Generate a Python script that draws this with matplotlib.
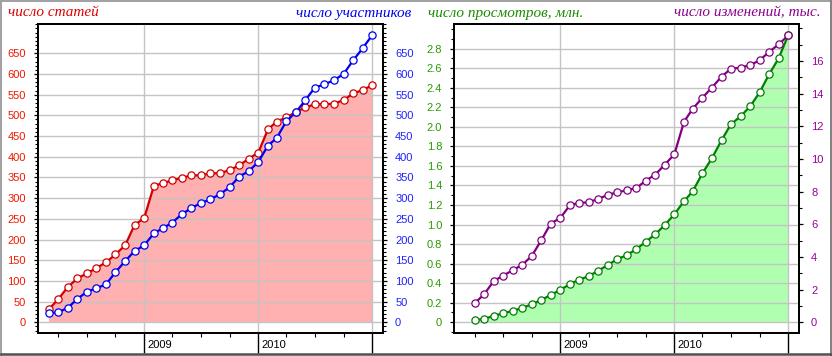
import matplotlib
matplotlib.use("Agg")
import matplotlib.pyplot as plt
import matplotlib.dates as mdates
import matplotlib.ticker as mticker
from matplotlib.transforms import ScaledTranslation
from matplotlib.lines import Line2D
import numpy as np
import pandas as pd

# ---------------- data ----------------
months_left = pd.date_range("2008-03-01", "2011-01-01", freq="MS")   # 35 months
months_right = pd.date_range("2008-04-01", "2011-01-01", freq="MS")  # 34 months

articles = [31, 56, 85, 106, 118, 131, 145, 164, 186, 235,
            252, 330, 336, 343, 349, 355, 355, 360, 360, 368,
            379, 395, 410, 466, 485, 495, 508, 519, 527, 527,
            528, 537, 553, 561, 573]
participants = [22, 24, 35, 56, 74, 82, 92, 121, 148, 172,
                186, 215, 227, 241, 261, 276, 288, 297, 310, 326,
                352, 365, 387, 427, 445, 486, 507, 537, 567, 575,
                585, 600, 633, 662, 694]
views_mln = [0.020, 0.034, 0.065, 0.092, 0.116, 0.147, 0.184, 0.229, 0.280, 0.331,
             0.393, 0.434, 0.471, 0.526, 0.584, 0.645, 0.686, 0.748, 0.823, 0.901,
             0.994, 1.106, 1.239, 1.342, 1.525, 1.678, 1.862, 2.026, 2.108, 2.210,
             2.353, 2.541, 2.701, 2.940]
edits_k = [1.16, 1.71, 2.52, 2.86, 3.19, 3.53, 4.06, 5.04, 6.05, 6.40,
           7.19, 7.31, 7.35, 7.55, 7.80, 7.96, 8.08, 8.22, 8.67, 9.05,
           9.65, 10.29, 12.29, 13.08, 13.76, 14.37, 15.04, 15.53, 15.59, 15.76,
           16.04, 16.57, 17.02, 17.57]

year_ticks = ["2009-01-01", "2010-01-01", "2011-01-01"]
year_labels = ["2009", "2010", ""]

title_articles = "число статей"
title_participants = "число участников"
title_views = "число просмотров, млн."
title_edits = "число изменений, тыс."

# ---------------- style ----------------
W, H = 832, 356
fig = plt.figure(figsize=(W / 100, H / 100), dpi=100)
fig.patch.set_facecolor("white")

TICK_FONT = {"family": ["Liberation Sans", "DejaVu Sans"], "size": 8.0}
TITLE_FONT = ["Liberation Serif", "DejaVu Serif"]
GRID = "#C4C4C4"

def px_rect(x0, y0, x1, y1):
    return [x0 / W, 1 - y1 / H, (x1 - x0) / W, (y1 - y0) / H]

x_ticks_num = [mdates.date2num(pd.Timestamp(d)) for d in year_ticks]
day_per_px = 365.0 / 114.0
xlim = (x_ticks_num[0] - 106.5 * day_per_px, x_ticks_num[2] + 11.0 * day_per_px)


def setup_x(ax):
    ax.set_xlim(*xlim)
    ax.xaxis.set_major_locator(mticker.FixedLocator(x_ticks_num))
    ax.xaxis.set_minor_locator(mdates.MonthLocator(bymonth=[4, 7, 10]))
    ax.set_xticklabels(year_labels, ha="left", fontdict=TICK_FONT, color="black")
    ax.tick_params(axis="x", which="major", direction="out", length=14.6, width=1.0,
                   pad=-10.0, color="black")
    ax.tick_params(axis="x", which="minor", direction="out", length=3.0, width=0.8,
                   color="black")
    for lbl in ax.get_xticklabels():
        lbl.set_transform(lbl.get_transform() + ScaledTranslation(2.5 / 72, 0, fig.dpi_scale_trans))
    ax.grid(True, axis="x", which="major", color=GRID, linewidth=1.0)


def style_y(ax, side, color):
    ax.tick_params(axis="y", which="major", direction="out", length=3.0, width=0.9,
                   color="black", labelcolor=color, pad=5.5)
    ax.tick_params(axis="y", which="minor", direction="out", length=2.0, width=0.8,
                   color="black")
    for lbl in ax.get_yticklabels():
        lbl.set_fontfamily(TICK_FONT["family"])
        lbl.set_fontsize(TICK_FONT["size"])


def spines(ax):
    for s in ax.spines.values():
        s.set_linewidth(1.3)
        s.set_color("black")


# ---------------- left panel ----------------
axL = fig.add_axes(px_rect(37.7, 24.3, 383.3, 333.3))
axL.set_axisbelow(False)
setup_x(axL)
ylimL = (-26.6, 720)
axL.set_ylim(*ylimL)
axL.yaxis.set_major_locator(mticker.FixedLocator(np.arange(0, 651, 50)))
axL.yaxis.set_minor_locator(mticker.MultipleLocator(10))
axL.yaxis.set_major_formatter(mticker.FormatStrFormatter("%d"))
axL.fill_between(months_left, articles, 0, color="#FFB0B0", linewidth=0, zorder=1)
axL.grid(True, axis="y", which="major", color=GRID, linewidth=1.0)
for gl in axL.get_xgridlines() + axL.get_ygridlines():
    gl.set_zorder(1.5)
axL.plot(months_left, articles, color="#D00000", lw=1.6, marker="o", ms=5.2,
         mfc="white", mec="#D00000", mew=0.9, zorder=3, clip_on=False)
style_y(axL, "left", "#F01800")
spines(axL)

axL2 = axL.twinx()
axL2.set_ylim(*ylimL)
axL2.yaxis.set_major_locator(mticker.FixedLocator(np.arange(0, 651, 50)))
axL2.yaxis.set_minor_locator(mticker.MultipleLocator(10))
axL2.yaxis.set_major_formatter(mticker.FormatStrFormatter("%d"))
axL2.plot(months_left, participants, color="#0000F0", lw=1.6, marker="o", ms=5.2,
          mfc="white", mec="#0000F0", mew=0.9, zorder=3, clip_on=False)
style_y(axL2, "right", "#2020FF")
spines(axL2)

# ---------------- right panel ----------------
axR = fig.add_axes(px_rect(454.0, 24.3, 799.3, 333.3))
axR.set_axisbelow(False)
setup_x(axR)
axR.set_ylim(-0.113, 3.05)
axR.yaxis.set_major_locator(mticker.FixedLocator(np.round(np.arange(0, 2.81, 0.2), 1)))
axR.yaxis.set_minor_locator(mticker.MultipleLocator(0.1))
axR.yaxis.set_major_formatter(mticker.FuncFormatter(lambda v, p: "0" if abs(v) < 1e-9 else f"{v:.1f}"))
axR.fill_between(months_right, views_mln, 0, color="#B0FFB0", linewidth=0, zorder=1)
axR.grid(True, axis="y", which="major", color=GRID, linewidth=1.0)
for gl in axR.get_xgridlines() + axR.get_ygridlines():
    gl.set_zorder(1.5)
axR.plot(months_right, views_mln, color="#008000", lw=1.6, marker="o", ms=5.2,
         mfc="white", mec="#008000", mew=0.9, zorder=3, clip_on=False)
style_y(axR, "left", "#2A9A00")
spines(axR)

axR2 = axR.twinx()
axR2.set_ylim(-0.67, 18.25)
axR2.yaxis.set_major_locator(mticker.FixedLocator(np.arange(0, 17, 2)))
axR2.yaxis.set_minor_locator(mticker.MultipleLocator(1))
axR2.yaxis.set_major_formatter(mticker.FormatStrFormatter("%d"))
axR2.plot(months_right, edits_k, color="#800080", lw=1.6, marker="o", ms=5.2,
          mfc="white", mec="#800080", mew=0.9, zorder=3, clip_on=False)
style_y(axR2, "right", "#990099")
spines(axR2)

# ---------------- titles ----------------
tkw = dict(fontfamily=TITLE_FONT, fontstyle="italic", fontsize=11.0, va="center")
fig.text(8 / W, 1 - 13 / H, title_articles, color="#DD0000", ha="left", **tkw)
fig.text(411 / W, 1 - 13 / H, title_participants, color="#0000EE", ha="right", **tkw)
fig.text(428 / W, 1 - 13 / H, title_views, color="#1A8C00", ha="left", **tkw)
fig.text(821 / W, 1 - 13 / H, title_edits, color="#8C008C", ha="right", **tkw)

# ---------------- frame ----------------
def fl(x0, y0, x1, y1, c, lw=1.4):
    fig.add_artist(Line2D([x0 / W, x1 / W], [1 - y0 / H, 1 - y1 / H], color=c, lw=lw,
                          transform=fig.transFigure))

fl(0.5, 0.7, 831.5, 0.7, "#A0A0A0")
fl(0.7, 0.5, 0.7, 355.5, "#A0A0A0")
fl(831.2, 0.5, 831.2, 355.5, "#808080")
fl(0.5, 354.2, 831.5, 354.2, "#505050", lw=1.8)

fig.savefig("out.png", dpi=100, facecolor="white")
